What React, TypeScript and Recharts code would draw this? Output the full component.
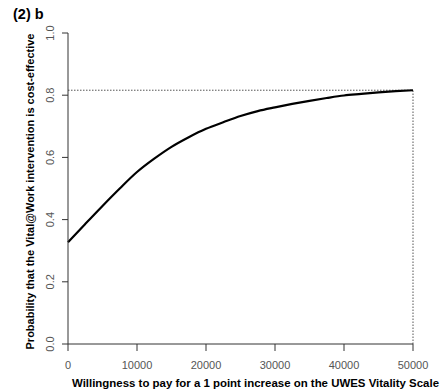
import React from "react";
import {
  LineChart, Line, XAxis, YAxis, ReferenceLine, Label,
} from "recharts";

const wtp = [
  0, 2500, 5000, 7500, 10000, 12500, 15000, 17500, 20000, 22500, 25000,
  27500, 30000, 32500, 35000, 37500, 40000, 42500, 45000, 47500, 50000,
];
const probability = [
  0.327, 0.386, 0.444, 0.500, 0.553, 0.596, 0.634, 0.665, 0.692, 0.713, 0.733,
  0.749, 0.761, 0.772, 0.782, 0.791, 0.799, 0.804, 0.809, 0.813, 0.816,
];
const xTicks = [0, 10000, 20000, 30000, 40000, 50000];
const yTicks = [0, 0.2, 0.4, 0.6, 0.8, 1.0];
const maxProb = 0.816;

const data = wtp.map((w, i) => ({ wtp: w, prob: probability[i] }));

const font = "'Liberation Sans', Arial, sans-serif";

// R-style rotated tick labels
const YTick = ({ x, y, payload }: any) => (
  <text
    x={x - 4}
    y={y}
    transform={`rotate(-90, ${x - 4}, ${y})`}
    textAnchor="middle"
    fill="#555"
    fontSize={11}
    fontFamily={font}
  >
    {Number(payload.value).toFixed(1)}
  </text>
);

export default function App() {
  return (
    <div style={{ position: "absolute", left: 0, top: 0, width: 446, height: 389, background: "#fff" }}>
      <div
        style={{
          position: "absolute", left: 13, top: 6, fontFamily: font,
          fontWeight: "bold", fontSize: 14.5, color: "#000",
        }}
      >
        (2) b
      </div>
      <LineChart
        width={446}
        height={389}
        data={data}
        margin={{ top: 33, right: 33, bottom: 15, left: 8 }}
      >
        <XAxis
          dataKey="wtp"
          type="number"
          domain={[0, 50000]}
          ticks={xTicks}
          height={30}
          stroke="#333"
          tickSize={7}
          tickMargin={10}
          tick={{ fill: "#555", fontSize: 11, fontFamily: font }}
        >
          <Label
            value="Willingness to pay for a 1 point increase on the UWES Vitality Scale"
            position="insideBottom"
            dx={15}
            offset={-13}
            style={{ fontWeight: "bold", fontSize: 11.45, fontFamily: font, fill: "#000" }}
          />
        </XAxis>
        <YAxis
          type="number"
          domain={[0, 1]}
          ticks={yTicks}
          width={60}
          stroke="#333"
          tickSize={6}
          tickMargin={4}
          tick={<YTick />}
        >
          <Label
            value="Probability that the Vital@Work intervention is cost-effective"
            angle={-90}
            position="insideLeft"
            dx={17}
            dy={3}
            style={{ textAnchor: "middle", fontWeight: "bold", fontSize: 11, fontFamily: font, fill: "#000" }}
          />
        </YAxis>
        <ReferenceLine
          segment={[{ x: 0, y: maxProb }, { x: 50000, y: maxProb }]}
          stroke="#555"
          strokeDasharray="1.5 1.5"
          ifOverflow="visible"
        />
        <ReferenceLine
          segment={[{ x: 50000, y: 0 }, { x: 50000, y: maxProb }]}
          stroke="#555"
          strokeDasharray="1.5 1.5"
          ifOverflow="visible"
        />
        <Line
          dataKey="prob"
          type="monotone"
          stroke="#000"
          strokeWidth={2.2}
          dot={false}
          isAnimationActive={false}
        />
      </LineChart>
    </div>
  );
}
